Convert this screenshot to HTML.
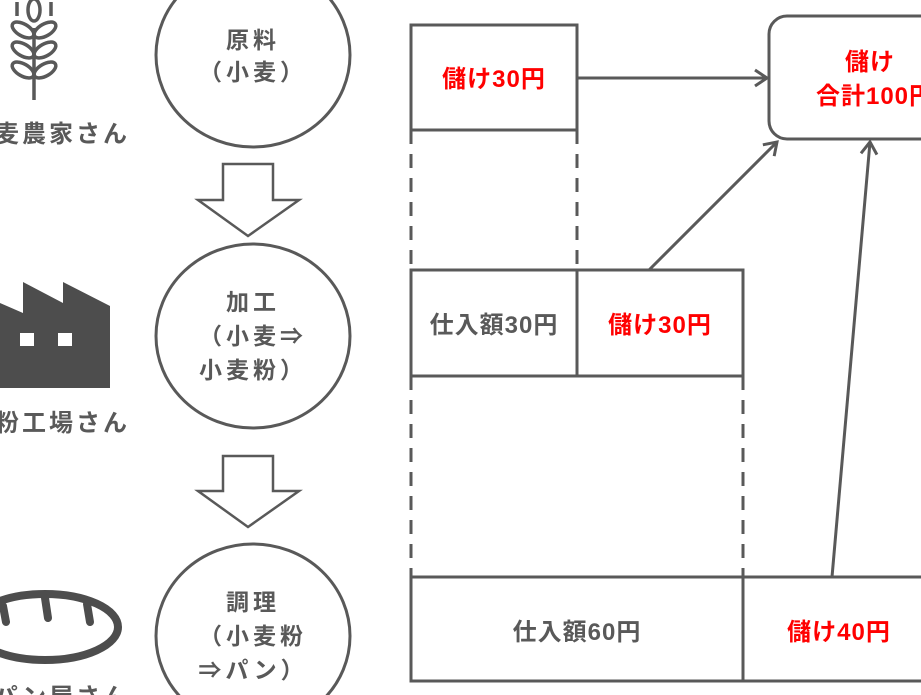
<!DOCTYPE html>
<html><head><meta charset="utf-8"><style>
html,body{margin:0;padding:0;background:#fff;}
svg{display:block;}
text{font-family:"Liberation Sans","Noto Sans CJK JP",sans-serif;font-weight:bold;}
</style></head><body>
<svg width="921" height="695" viewBox="0 0 921 695" xmlns="http://www.w3.org/2000/svg">
<defs>
<marker id="ah" markerWidth="20" markerHeight="20" refX="16" refY="10" orient="auto" markerUnits="userSpaceOnUse">
<path d="M4,2 L16,10 L4,18" fill="none" stroke="#595959" stroke-width="3"/>
</marker>
</defs>
<g fill="none" stroke="#595959" stroke-width="3">
<ellipse cx="253" cy="55" rx="97" ry="92"/>
<ellipse cx="253" cy="336" rx="97" ry="92"/>
<ellipse cx="253" cy="636" rx="97" ry="92"/>
<path d="M223,164 L273,164 L273,200 L299,200 L248,236 L198,200 L223,200 Z" stroke-width="2.5"/>
<path d="M223,456 L273,456 L273,491 L299,491 L248,527 L198,491 L223,491 Z" stroke-width="2.5"/>
<rect x="411" y="25" width="166" height="105"/>
<rect x="411" y="270" width="166" height="106"/>
<rect x="577" y="270" width="166" height="106"/>
<rect x="411" y="577" width="332" height="104"/>
<rect x="743" y="577" width="190" height="104"/>
<rect x="769" y="16" width="180" height="123" rx="18"/>
<g stroke-dasharray="14,10">
<line x1="411" y1="130" x2="411" y2="270"/>
<line x1="577" y1="130" x2="577" y2="270"/>
<line x1="411" y1="376" x2="411" y2="577"/>
<line x1="743" y1="376" x2="743" y2="577"/>
</g>
<line x1="577" y1="78" x2="767" y2="78" marker-end="url(#ah)"/>
<line x1="649" y1="270" x2="777" y2="142" marker-end="url(#ah)"/>
<line x1="832" y1="577" x2="870" y2="142" marker-end="url(#ah)"/>
</g>
<!-- wheat -->
<g fill="none" stroke="#595959" stroke-width="3.5">
<line x1="34" y1="28" x2="34" y2="100"/>
<line x1="17" y1="2" x2="17" y2="16"/>
<line x1="51" y1="2" x2="51" y2="16"/>
<ellipse cx="34" cy="10" rx="6" ry="11"/>
<ellipse cx="23" cy="30" rx="12" ry="6" transform="rotate(30 23 30)"/>
<ellipse cx="45" cy="30" rx="12" ry="6" transform="rotate(-30 45 30)"/>
<ellipse cx="23" cy="50" rx="12" ry="6" transform="rotate(30 23 50)"/>
<ellipse cx="45" cy="50" rx="12" ry="6" transform="rotate(-30 45 50)"/>
<ellipse cx="23" cy="70" rx="12" ry="6" transform="rotate(30 23 70)"/>
<ellipse cx="45" cy="70" rx="12" ry="6" transform="rotate(-30 45 70)"/>
</g>
<path d="M0,303 L23,313 L23,282 L63,303 L63,282 L110,306 L110,388 L0,388 Z" fill="#4d4d4d"/>
<rect x="20" y="333" width="14" height="13" fill="#fff"/>
<rect x="58" y="333" width="14" height="13" fill="#fff"/>
<ellipse cx="45" cy="627" rx="73" ry="33" fill="none" stroke="#4d4d4d" stroke-width="8"/>
<g stroke="#4d4d4d" stroke-width="8" stroke-linecap="round">
<line x1="3" y1="606" x2="6" y2="622"/>
<line x1="45" y1="598" x2="48" y2="618"/>
<line x1="87" y1="604" x2="90" y2="622"/>
</g>
<g fill="#595959" font-size="23" text-anchor="middle">
<text x="253" y="48" letter-spacing="4">原料</text>
<text x="253" y="80" letter-spacing="4">（小麦）</text>
<text x="253" y="310" letter-spacing="4">加工</text>
<text x="253" y="344" letter-spacing="4">（小麦⇒</text>
<text x="253" y="378" letter-spacing="4">小麦粉）</text>
<text x="253" y="610" letter-spacing="4">調理</text>
<text x="253" y="644" letter-spacing="4">（小麦粉</text>
<text x="253" y="678" letter-spacing="4">⇒パン）</text>
</g>
<g fill="#595959" font-size="24" text-anchor="middle">
<text x="494" y="333" letter-spacing="1">仕入額30円</text>
<text x="577" y="640" letter-spacing="1">仕入額60円</text>
</g>
<g fill="#595959" font-size="24" text-anchor="end" letter-spacing="3">
<text x="130" y="142">小麦農家さん</text>
<text x="130" y="431">小麦粉工場さん</text>
<text x="130" y="705">パン屋さん</text>
</g>
<g fill="#ff0000" font-size="24" text-anchor="middle" letter-spacing="1">
<text x="494" y="87">儲け30円</text>
<text x="660" y="333">儲け30円</text>
<text x="839" y="640">儲け40円</text>
<text x="870" y="70">儲け</text>
<text x="875" y="104">合計100円</text>
</g>
</svg>
</body></html>
